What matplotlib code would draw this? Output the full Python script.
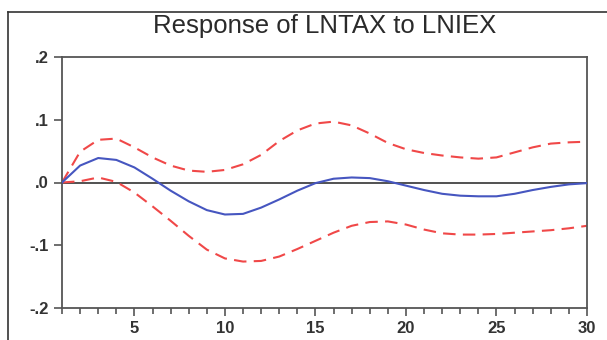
import matplotlib
matplotlib.use("Agg")
import matplotlib.pyplot as plt
from matplotlib.lines import Line2D
import numpy as np

periods = list(range(1, 31))
response = [0.000, 0.027, 0.039, 0.036, 0.024, 0.006, -0.013, -0.030, -0.044, -0.051,
            -0.050, -0.040, -0.027, -0.013, -0.001, 0.006, 0.008, 0.007, 0.002, -0.005,
            -0.012, -0.018, -0.021, -0.022, -0.022, -0.018, -0.012, -0.007, -0.003, -0.001]
upper = [0.000, 0.049, 0.068, 0.070, 0.056, 0.040, 0.027, 0.019, 0.017, 0.020,
         0.029, 0.044, 0.066, 0.083, 0.094, 0.097, 0.091, 0.078, 0.063, 0.053,
         0.047, 0.043, 0.040, 0.038, 0.040, 0.048, 0.056, 0.062, 0.064, 0.065]
lower = [0.000, 0.002, 0.008, 0.001, -0.016, -0.038, -0.061, -0.085, -0.107, -0.121,
         -0.126, -0.125, -0.118, -0.106, -0.093, -0.080, -0.069, -0.063, -0.062, -0.067,
         -0.075, -0.081, -0.083, -0.083, -0.082, -0.080, -0.078, -0.076, -0.073, -0.069]
yticks = [0.2, 0.1, 0.0, -0.1, -0.2]
ytick_labels = [".2", ".1", ".0", "-.1", "-.2"]
xticks = [5, 10, 15, 20, 25, 30]
title = "Response of LNTAX to LNIEX"

plt.rcParams['font.family'] = ['Liberation Sans', 'DejaVu Sans']

fig = plt.figure(figsize=(6.07, 3.40), dpi=100)
ax = fig.add_axes([62/607, 32/340, 525/607, 251/340])

ax.axhline(0, color='#333333', lw=1.2, zorder=1)
ax.plot(periods, upper, color='#f04848', lw=1.5, ls=(0, (6, 3.5)), zorder=2,
        solid_joinstyle='round', dash_joinstyle='round')
ax.plot(periods, lower, color='#f04848', lw=1.5, ls=(0, (6, 3.5)), zorder=2,
        solid_joinstyle='round', dash_joinstyle='round')
ax.plot(periods, response, color='#4656c0', lw=1.5, zorder=3, solid_joinstyle='round')

ax.set_xlim(1, 30)
ax.set_ylim(-0.2, 0.2)
ax.set_yticks(yticks)
ax.set_yticklabels(ytick_labels)
ax.set_xticks(xticks)
ax.set_xticks(periods, minor=True)
ax.tick_params(axis='both', which='major', direction='out', length=6, width=1.2,
               color='#555555', labelsize=12, labelcolor='#333333')
ax.tick_params(axis='x', which='minor', direction='out', length=4, width=1.2, color='#555555')
for lab in ax.get_xticklabels() + ax.get_yticklabels():
    lab.set_fontweight('bold')
for s in ax.spines.values():
    s.set_color('#555555')
    s.set_linewidth(1.3)

fig.text((62 + 587) / 2 / 607, 1 - 26 / 340, title, ha='center', va='center',
         fontsize=18.5, color='#2a2a2a')

fig.add_artist(Line2D([8/607, 8/607], [0, 1 - 12/340], transform=fig.transFigure,
                      color='#333333', lw=1.2))
fig.add_artist(Line2D([8/607, 1], [1 - 12/340, 1 - 12/340], transform=fig.transFigure,
                      color='#333333', lw=1.2))

fig.savefig("out.png", dpi=100)
